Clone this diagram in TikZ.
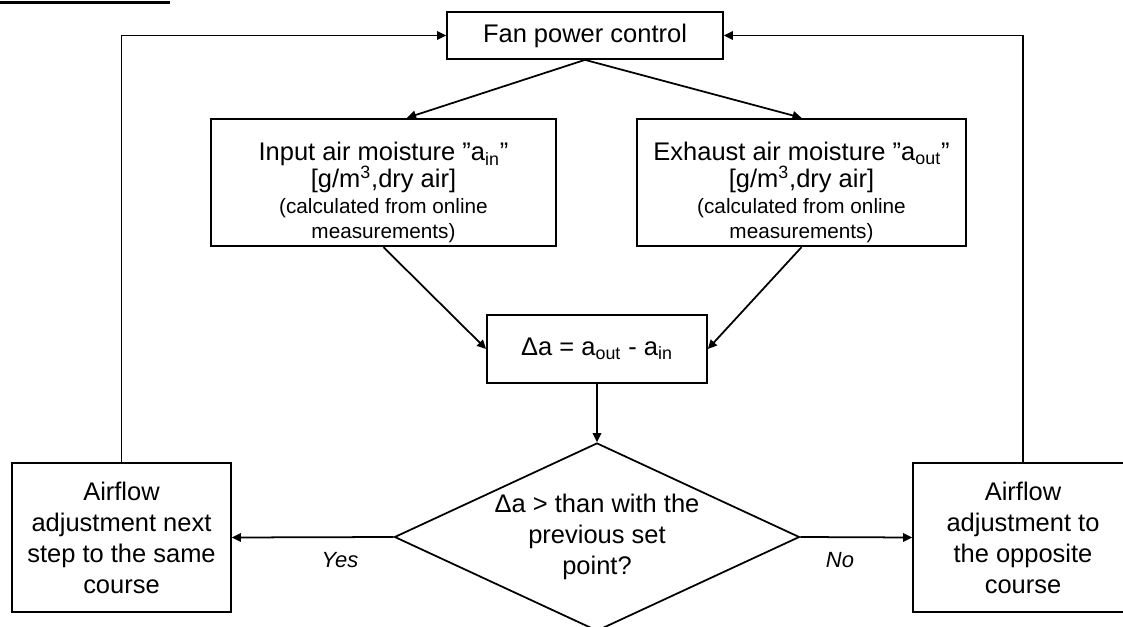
\documentclass[tikz,border=0pt]{standalone}
\usepackage{fontspec}
\setmainfont{Liberation Sans}
\usetikzlibrary{shapes.geometric,arrows.meta}

\newcommand{\bigtxt}{\fontsize{14.5}{15.4}\selectfont}
\newcommand{\smalltxt}{\fontsize{11.8}{14}\selectfont}
\newcommand{\looseTxt}{\fontsize{14.5}{17.6}\selectfont}

\begin{document}
\begin{tikzpicture}[
        >={Triangle[length=1.8mm,width=1.7mm]},
        box/.style={draw, line width=1pt, align=center, inner sep=2pt, font=\bigtxt},
        arr/.style={->, line width=1pt},
        answer/.style={font=\itshape\fontsize{12.5}{14}\selectfont}
    ]
        \useasboundingbox (0,0) rectangle (22.46,-12.54);
        \draw[line width=1.6pt] (0,-0.05) -- (3.4,-0.05);

        \node[box, minimum width=5.52cm, minimum height=0.94cm] at (11.70,-0.71) (fan) {Fan power control};
        \node[box, minimum width=6.9cm, minimum height=2.54cm] at (7.67,-3.65) (input) {\rule{0pt}{22pt}Input air moisture ”a\textsubscript{in}”\\ {[g/m\textsuperscript{3},dry air]}\\[-1pt] {\smalltxt (calculated from online}\\[-1pt] {\smalltxt measurements)}};
        \node[box, minimum width=6.58cm, minimum height=2.54cm] at (16.03,-3.65) (exhaust) {\rule{0pt}{22pt}Exhaust air moisture ”a\textsubscript{out}”\\ {[g/m\textsuperscript{3},dry air]}\\[-1pt] {\smalltxt (calculated from online}\\[-1pt] {\smalltxt measurements)}};
        \node[box, minimum width=4.4cm, minimum height=1.36cm] at (11.94,-6.98) (delta) {Δa = a\textsubscript{out} - a\textsubscript{in}};
        \node[draw, diamond, line width=1pt, shape aspect=2.15, minimum width=8.1cm, minimum height=3.76cm, inner sep=0pt, align=center, font=\looseTxt] at (11.94,-10.74) (check) {Δa > than with the\\ previous set\\ point?};
        \node[box, font=\looseTxt, minimum width=4.38cm, minimum height=2.98cm] at (2.43,-10.75) (same) {Airflow\\ adjustment next\\ step to the same\\ course};
        \node[box, font=\looseTxt, minimum width=4.4cm, minimum height=2.98cm] at (20.46,-10.75) (opposite) {Airflow\\ adjustment to\\ the opposite\\ course};
        \node[answer] at (6.8,-11.2) (yes) {Yes};
        \node[answer] at (16.8,-11.2) (no) {No};

        \draw[arr] (fan.south) -- (input.70);
        \draw[arr] (fan.south) -- (exhaust.north);
        \draw[arr] (input.south) -- (delta.west);
        \draw[arr] (exhaust.south) -- (delta.east);
        \draw[arr] (delta.south) -- (check.north);
        \draw[arr] (check.west) -- (same.east);
        \draw[arr] (check.east) -- (opposite.west);
        \draw[arr] (same.north) |- (fan.west);
        \draw[arr] (opposite.north) |- (fan.east);
    \end{tikzpicture}
\end{document}
